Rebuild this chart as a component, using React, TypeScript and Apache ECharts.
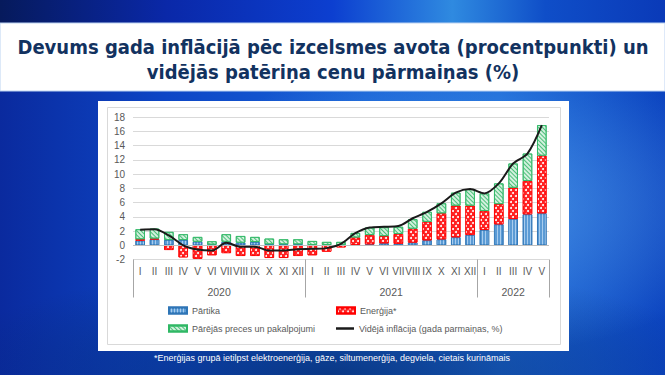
import React, { useEffect, useRef } from "react";
import * as echarts from "echarts";

const months = [
  "I", "II", "III", "IV", "V", "VI", "VII", "VIII", "IX", "X", "XI", "XII",
  "I", "II", "III", "IV", "V", "VI", "VII", "VIII", "IX", "X", "XI", "XII",
  "I", "II", "III", "IV", "V",
];
const years = ["2020", "2021", "2022"];
const yearMonths = [12, 12, 5];

const food = [
  0.65, 0.85, 0.75, 0.75, 0.5, 0.1, 0.5, 0.37, 0.47, 0.15, 0.15, 0.15,
  0.05, 0.05, 0.05, 0.05, 0.14, 0.28, 0.2, 0.38, 0.7, 0.84, 1.13, 1.45,
  2.16, 2.95, 3.7, 4.36, 4.5,
];
const energy = [
  0.2, 0.1, -0.66, -1.7, -1.9, -1.4, -1.1, -1.5, -1.5, -1.78, -1.78, -1.5,
  -1.4, -0.9, -0.3, 1.05, 1.31, 1.02, 1.4, 1.96, 2.6, 3.66, 4.45, 4.13,
  2.67, 2.85, 4.4, 4.69, 8.1,
];
const other = [
  1.4, 1.39, 1.13, 0.8, 0.67, 0.46, 1.05, 0.93, 0.7, 0.79, 0.69, 0.69,
  0.55, 0.42, 0.42, 0.63, 1.05, 1.23, 1.0, 1.32, 1.4, 1.4, 1.82, 2.3,
  2.47, 2.9, 3.4, 3.85, 4.3,
];
const inflation = [
  2.2, 2.25, 1.4, 0.0, -0.6, -0.75, 0.35, -0.2, -0.2, -0.75, -0.75, -0.55,
  -0.5, -0.4, 0.2, 1.7, 2.5, 2.6, 2.7, 3.8, 4.7, 5.9, 7.4, 7.9,
  7.3, 8.7, 11.5, 12.9, 16.9,
];

const seriesNames = [
  "Pārtika",
  "Enerģija*",
  "Pārējās preces un pakalpojumi",
  "Vidējā inflācija (gada parmaiņas, %)",
];
const titleLines = [
  "Devums gada inflācijā pēc izcelsmes avota (procentpunkti) un",
  "vidējās patēriņa cenu pārmaiņas (%)",
];
const footnote =
  "*Enerģijas grupā ietilpst elektroenerģija, gāze, siltumenerģija, degviela, cietais kurināmais";

const yMin = -2;
const yMax = 18;
const yStep = 2;

export default function App() {
  const ref = useRef<HTMLDivElement>(null);

  useEffect(() => {
    if (!ref.current) return;
    const chart = echarts.init(ref.current, null, { renderer: "svg" });

    const bounds: number[] = [0];
    yearMonths.forEach((m) => bounds.push(bounds[bounds.length - 1] + m));
    const mids = years.map((_, i) => (bounds[i] + bounds[i + 1]) / 2);
    const total = bounds[bounds.length - 1];

    const font = "'Liberation Sans', Arial, sans-serif";
    const labelColor = "#595959";
    const titleFont = "'DejaVu Sans Condensed', 'Liberation Sans', sans-serif";

    const legendBase = {
      itemWidth: 18,
      itemHeight: 6,
      padding: 0,
      itemGap: 0,
      textStyle: { fontSize: 9, color: labelColor, fontFamily: font },
      selectedMode: false,
    };

    chart.setOption({
      animation: false,
      backgroundColor: "transparent",
      textStyle: { fontFamily: font },
      graphic: [
        {
          type: "rect",
          z: -10,
          shape: { x: 0, y: 23, width: 665, height: 68 },
          style: { fill: "#ffffff", stroke: "#bcd3f2", lineWidth: 1 },
        },
        {
          type: "rect",
          z: -10,
          shape: { x: 98, y: 101, width: 471, height: 250 },
          style: { fill: "#ffffff" },
        },
        {
          type: "rect",
          z: -9,
          shape: { x: 107.5, y: 107.5, width: 453, height: 237 },
          style: { fill: "none", stroke: "#d9d9d9", lineWidth: 1 },
        },
        {
          type: "text",
          x: 333,
          y: 47,
          style: {
            text: titleLines[0],
            align: "center",
            verticalAlign: "middle",
            fontSize: 20,
            fontWeight: "bold",
            fontFamily: titleFont,
            fill: "#12325f",
          },
        },
        {
          type: "text",
          x: 333,
          y: 72,
          style: {
            text: titleLines[1],
            align: "center",
            verticalAlign: "middle",
            fontSize: 20,
            fontWeight: "bold",
            fontFamily: titleFont,
            fill: "#12325f",
          },
        },
        {
          type: "text",
          x: 332,
          y: 358,
          style: {
            text: footnote,
            align: "center",
            verticalAlign: "middle",
            fontSize: 9,
            fontFamily: "'Liberation Sans', sans-serif",
            fill: "#ffffff",
          },
        },
      ],
      legend: [
        { ...legendBase, data: [{ name: seriesNames[0], icon: "rect" }], left: 168, top: 306 },
        { ...legendBase, data: [{ name: seriesNames[1], icon: "rect" }], left: 336, top: 306 },
        { ...legendBase, data: [{ name: seriesNames[2], icon: "rect" }], left: 168, top: 324 },
        {
          ...legendBase,
          itemHeight: 2.5,
          data: [{ name: seriesNames[3], icon: "rect", itemStyle: { color: "#1a1a1a" } }],
          left: 336,
          top: 324,
        },
      ],
      grid: { left: 133, right: 116, top: 117.3, bottom: 115.5 },
      xAxis: [
        {
          type: "category",
          data: months,
          position: "bottom",
          axisLine: { show: false, onZero: false },
          axisTick: { show: false },
          axisLabel: { interval: 0, fontSize: 10, color: labelColor, margin: 7 },
          splitLine: { show: false },
        },
        {
          type: "value",
          min: 0,
          max: total,
          position: "bottom",
          axisLine: { show: false, onZero: false },
          splitLine: { show: false },
          axisTick: {
            show: true,
            customValues: bounds,
            length: 38,
            lineStyle: { color: "#a6a6a6", width: 1 },
          },
          axisLabel: {
            show: true,
            customValues: mids,
            margin: 27,
            fontSize: 10.5,
            color: labelColor,
            formatter: (v: number) => {
              const i = mids.findIndex((m) => Math.abs(m - v) < 0.01);
              return i >= 0 ? years[i] : "";
            },
          },
        },
      ],
      yAxis: {
        type: "value",
        min: yMin,
        max: yMax,
        interval: yStep,
        axisLine: { show: false },
        axisTick: { show: false },
        axisLabel: { fontSize: 10, color: labelColor, margin: 8 },
        splitLine: { lineStyle: { color: "#d9d9d9", width: 1 } },
      },
      series: [
        {
          name: seriesNames[0],
          type: "bar",
          stack: "total",
          data: food,
          barWidth: "66%",
          itemStyle: {
            color: "#5b9bd5",
            borderColor: "#2e75b6",
            borderWidth: 0.8,
            decal: {
              symbol: "rect",
              symbolSize: 1,
              dashArrayX: [1, 0],
              dashArrayY: [1, 2],
              rotation: Math.PI / 2,
              color: "rgba(200,225,250,0.7)",
            },
          },
          markLine: {
            silent: true,
            symbol: ["none", "none"],
            label: { show: false },
            lineStyle: { color: "#bfbfbf", type: "solid", width: 1 },
            data: [{ yAxis: 0 }],
          },
        },
        {
          name: seriesNames[1],
          type: "bar",
          stack: "total",
          data: energy,
          barWidth: "66%",
          itemStyle: {
            color: "#ff2020",
            borderColor: "#ff0000",
            borderWidth: 0.8,
            decal: {
              symbol: "circle",
              symbolSize: 1,
              dashArrayX: [[1.6, 2.4], [0, 2, 1.6, 0.4]],
              dashArrayY: [1.6, 1],
              color: "#ffffff",
            },
          },
        },
        {
          name: seriesNames[2],
          type: "bar",
          stack: "total",
          data: other,
          barWidth: "66%",
          itemStyle: {
            color: "#d3f1de",
            borderColor: "#2fb865",
            borderWidth: 0.8,
            decal: {
              symbol: "rect",
              symbolSize: 1,
              dashArrayX: [1, 0],
              dashArrayY: [1, 2],
              rotation: Math.PI / 4,
              color: "#4cbf7a",
            },
          },
        },
        {
          name: seriesNames[3],
          type: "line",
          data: inflation,
          smooth: 0.3,
          symbol: "none",
          z: 5,
          itemStyle: { color: "#1a1a1a" },
          lineStyle: { color: "#1a1a1a", width: 2 },
        },
      ],
    });

    return () => chart.dispose();
  }, []);

  return (
    <div
      style={{
        position: "fixed",
        left: 0,
        top: 0,
        width: 665,
        height: 375,
        background:
          "radial-gradient(ellipse 45% 40% at 70% 55%, rgba(110,185,245,0.55) 0%, rgba(40,120,220,0) 100%), " +
          "radial-gradient(ellipse 60% 30% at 50% 100%, rgba(5,40,100,0.7) 0%, rgba(5,40,100,0) 100%), " +
          "linear-gradient(90deg, #0a2a9e 0%, #0d46c6 25%, #1862d6 55%, #1c6ad8 75%, #0c44c0 100%)",
      }}
    >
      <div
        style={{
          position: "absolute",
          left: 0,
          top: 0,
          width: 665,
          height: 23,
          background:
            "linear-gradient(90deg, #061a5c 0%, #0a28a8 25%, #0c3fd0 50%, #2f8ae0 68%, #0f4ec8 82%, #0a3ab8 100%)",
        }}
      />
      <div ref={ref} style={{ position: "absolute", left: 0, top: 0, width: 665, height: 375 }} />
    </div>
  );
}
